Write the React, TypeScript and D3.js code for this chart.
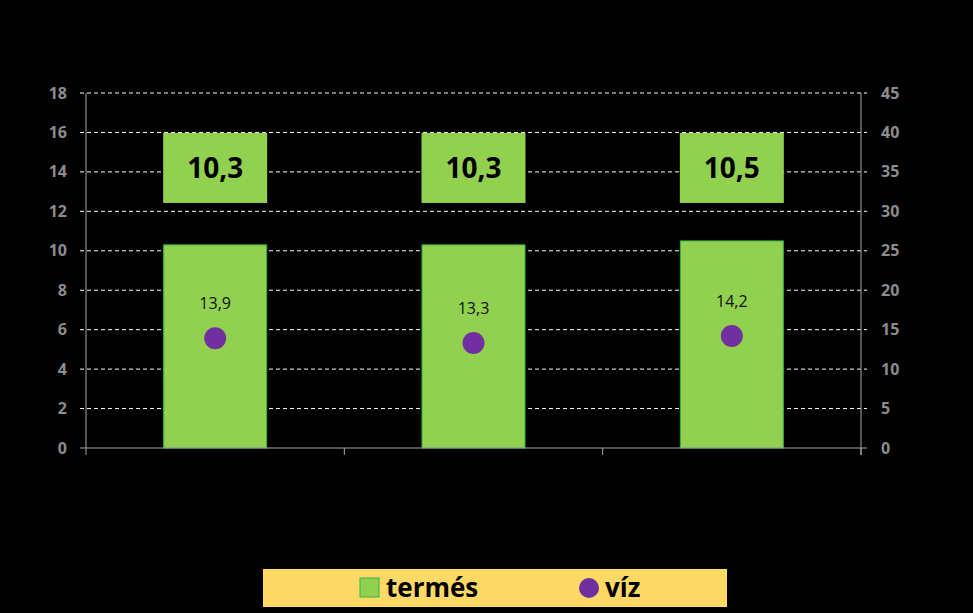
import React from 'react';
import * as d3 from 'd3';

const categories = ['A', 'B', 'C'];
const termes = [10.3, 10.3, 10.5];
const viz = [13.9, 13.3, 14.2];
const leftTicks = [0, 2, 4, 6, 8, 10, 12, 14, 16, 18];
const rightTicks = [0, 5, 10, 15, 20, 25, 30, 35, 40, 45];

const fmt = (v: number) => v.toFixed(1).replace('.', ',');

export default function App() {
  const W = 973;
  const H = 613;
  const left = 86;
  const right = 861;
  const top = 93;
  const bottom = 448;

  const x = d3.scaleBand<string>().domain(categories).range([left, right]);
  const yL = d3.scaleLinear().domain([0, 18]).range([bottom, top]);
  const yR = d3.scaleLinear().domain([0, 45]).range([bottom, top]);
  const barW = 103;
  const font = 'Open Sans, Liberation Sans, sans-serif';

  // data label boxes (top), drawn around yL ~ 14.3
  const boxH = 70;
  const boxY = yL(14.2) - boxH / 2;

  return (
    <svg width={W} height={H} style={{ position: 'absolute', left: 0, top: 0, background: '#000' }}>
      <rect x={0} y={0} width={W} height={H} fill="#000" />
      {/* grid */}
      {leftTicks.filter(t => t > 0).map(t => (
        <line key={t} x1={left - 6} x2={right + 6} y1={yL(t)} y2={yL(t)} stroke="#fff" strokeWidth={1} strokeDasharray="4,3" />
      ))}
      {/* bars */}
      {categories.map((c, i) => {
        const cx = x(c)! + x.bandwidth() / 2;
        return (
          <rect key={c} x={cx - barW / 2} y={yL(termes[i])} width={barW} height={bottom - yL(termes[i])}
            fill="#92D050" stroke="#2fb24a" strokeWidth={1} />
        );
      })}
      {/* axes */}
      <line x1={left} x2={left} y1={top} y2={bottom} stroke="#a6a6a6" />
      <line x1={right} x2={right} y1={top} y2={bottom + 7} stroke="#a6a6a6" />
      <line x1={left - 6} x2={right + 6} y1={bottom} y2={bottom} stroke="#a6a6a6" />
      {[...categories.map(c => x(c)!), right].map((v, i) => (
        <line key={i} x1={v} x2={v} y1={bottom} y2={bottom + 7} stroke="#a6a6a6" />
      ))}
      {leftTicks.map(t => (
        <text key={t} x={left - 19} y={yL(t)} dy="0.35em" textAnchor="end" fill="#8c8c8c"
          fontFamily={font} fontWeight="bold" fontSize={16}>{t}</text>
      ))}
      {rightTicks.map(t => (
        <text key={t} x={right + 20} y={yR(t)} dy="0.35em" textAnchor="start" fill="#8c8c8c"
          fontFamily={font} fontWeight="bold" fontSize={16}>{t}</text>
      ))}
      {/* data labels for bars */}
      {categories.map((c, i) => {
        const cx = x(c)! + x.bandwidth() / 2;
        return (
          <g key={c}>
            <rect x={cx - 52} y={boxY} width={104} height={boxH} fill="#92D050" />
            <text x={cx} y={boxY + boxH / 2} dy="0.36em" textAnchor="middle" fill="#000"
              fontFamily={font} fontWeight="bold" fontSize={28}>{fmt(termes[i])}</text>
          </g>
        );
      })}
      {/* víz points */}
      {categories.map((c, i) => {
        const cx = x(c)! + x.bandwidth() / 2;
        return (
          <g key={c}>
            <circle cx={cx} cy={yR(viz[i])} r={11} fill="#7030A0" />
            <text x={cx} y={yR(viz[i]) - 29} textAnchor="middle" fill="#111"
              fontFamily={font} fontSize={16}>{fmt(viz[i])}</text>
          </g>
        );
      })}
      {/* legend */}
      <rect x={263} y={569} width={464} height={38} fill="#FFD966" />
      <rect x={360} y={578} width={19} height={19} fill="#92D050" stroke="#2fb24a" />
      <text x={386} y={588} dy="0.35em" fill="#000" fontFamily={font} fontWeight="bold" fontSize={26}>termés</text>
      <circle cx={589} cy={588} r={10} fill="#7030A0" />
      <text x={605} y={588} dy="0.35em" fill="#000" fontFamily={font} fontWeight="bold" fontSize={26}>víz</text>
    </svg>
  );
}
